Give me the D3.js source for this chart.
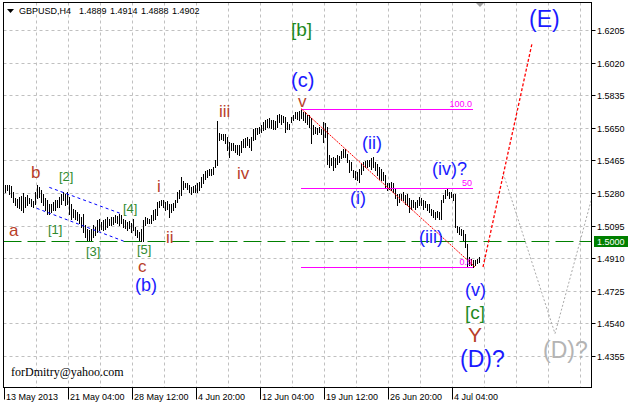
<!DOCTYPE html>
<html><head><meta charset="utf-8">
<script src="https://cdn.jsdelivr.net/npm/d3@7"></script>
<style>html,body{margin:0;padding:0;background:#fff}svg{display:block}</style>
</head><body>
<svg id="chart" width="631" height="405"></svg>
<script>
// ---------- DATA ----------
const symbol = "GBPUSD,H4";
const lastOHLC = ["1.4889", "1.4914", "1.4888", "1.4902"];
const highs = [
1.5328,1.5328,1.5324,1.5318,1.5286,1.5250,1.5245,1.5256,1.5262,1.5279,
1.5258,1.5267,1.5250,1.5245,1.5235,1.5286,1.5324,1.5314,1.5296,1.5277,
1.5254,1.5243,1.5220,1.5220,1.5229,1.5239,1.5243,1.5258,1.5277,1.5286,
1.5277,1.5286,1.5258,1.5220,1.5192,1.5182,1.5173,1.5163,1.5144,1.5163,
1.5097,1.5078,1.5069,1.5078,1.5097,1.5087,1.5125,1.5135,1.5116,1.5125,
1.5135,1.5144,1.5135,1.5144,1.5141,1.5154,1.5148,1.5163,1.5154,1.5131,
1.5125,1.5116,1.5120,1.5110,1.5135,1.5087,1.5069,1.5059,1.5078,1.5125,
1.5144,1.5138,1.5135,1.5154,1.5182,1.5192,1.5229,1.5233,1.5239,1.5239,
1.5229,1.5233,1.5220,1.5220,1.5226,1.5239,1.5286,1.5296,1.5371,1.5347,
1.5339,1.5339,1.5324,1.5314,1.5320,1.5324,1.5339,1.5343,1.5371,1.5390,
1.5403,1.5409,1.5415,1.5419,1.5428,1.5466,1.5687,1.5623,1.5617,1.5617,
1.5612,1.5598,1.5570,1.5561,1.5566,1.5555,1.5551,1.5555,1.5575,1.5587,
1.5592,1.5598,1.5589,1.5598,1.5646,1.5649,1.5651,1.5655,1.5665,1.5683,
1.5693,1.5699,1.5703,1.5693,1.5693,1.5687,1.5721,1.5731,1.5721,1.5717,
1.5712,1.5683,1.5674,1.5712,1.5721,1.5737,1.5740,1.5744,1.5759,1.5740,
1.5737,1.5725,1.5721,1.5703,1.5665,1.5655,1.5649,1.5655,1.5646,1.5683,
1.5680,1.5655,1.5494,1.5476,1.5485,1.5479,1.5494,1.5490,1.5517,1.5532,
1.5528,1.5504,1.5466,1.5456,1.5409,1.5403,1.5400,1.5419,1.5447,1.5455,
1.5460,1.5466,1.5466,1.5476,1.5485,1.5456,1.5447,1.5428,1.5419,1.5400,
1.5381,1.5334,1.5337,1.5343,1.5334,1.5305,1.5277,1.5277,1.5277,1.5286,
1.5267,1.5277,1.5249,1.5239,1.5243,1.5229,1.5239,1.5258,1.5249,1.5239,
1.5235,1.5220,1.5220,1.5192,1.5182,1.5173,1.5178,1.5173,1.5239,1.5267,
1.5296,1.5305,1.5286,1.5286,1.5277,1.5277,1.5091,1.5087,1.5078,1.5069,
1.5050,1.4993,1.4917,1.4908,1.4898,1.4898,1.4908,1.4914];
const lows = [
1.5286,1.5296,1.5277,1.5258,1.5229,1.5211,1.5201,1.5194,1.5182,1.5173,
1.5201,1.5211,1.5222,1.5205,1.5201,1.5220,1.5249,1.5258,1.5229,1.5211,
1.5182,1.5163,1.5163,1.5173,1.5182,1.5182,1.5201,1.5201,1.5220,1.5239,
1.5211,1.5220,1.5163,1.5135,1.5144,1.5135,1.5125,1.5107,1.5087,1.5059,
1.5031,1.5012,1.5012,1.5012,1.5031,1.5040,1.5059,1.5069,1.5078,1.5069,
1.5078,1.5087,1.5097,1.5097,1.5103,1.5116,1.5110,1.5097,1.5107,1.5087,
1.5082,1.5069,1.5080,1.5059,1.5069,1.5040,1.5031,1.5012,1.5006,1.5006,
1.5097,1.5107,1.5107,1.5112,1.5125,1.5135,1.5154,1.5201,1.5211,1.5201,
1.5182,1.5192,1.5144,1.5173,1.5182,1.5201,1.5229,1.5249,1.5267,1.5305,
1.5314,1.5305,1.5286,1.5277,1.5286,1.5283,1.5286,1.5296,1.5314,1.5334,
1.5362,1.5371,1.5381,1.5381,1.5390,1.5428,1.5438,1.5579,1.5589,1.5579,
1.5561,1.5523,1.5485,1.5523,1.5523,1.5513,1.5504,1.5494,1.5511,1.5540,
1.5541,1.5555,1.5541,1.5523,1.5579,1.5589,1.5612,1.5623,1.5627,1.5636,
1.5646,1.5655,1.5655,1.5649,1.5646,1.5646,1.5655,1.5683,1.5674,1.5683,
1.5627,1.5646,1.5646,1.5683,1.5693,1.5703,1.5699,1.5693,1.5703,1.5693,
1.5683,1.5674,1.5655,1.5561,1.5617,1.5623,1.5617,1.5627,1.5612,1.5570,
1.5598,1.5447,1.5428,1.5438,1.5409,1.5428,1.5447,1.5456,1.5476,1.5485,
1.5485,1.5456,1.5400,1.5409,1.5371,1.5362,1.5352,1.5343,1.5390,1.5409,
1.5428,1.5428,1.5432,1.5419,1.5428,1.5409,1.5381,1.5362,1.5352,1.5352,
1.5314,1.5296,1.5305,1.5296,1.5286,1.5249,1.5211,1.5229,1.5239,1.5239,
1.5220,1.5211,1.5173,1.5192,1.5201,1.5192,1.5201,1.5211,1.5211,1.5192,
1.5201,1.5182,1.5173,1.5154,1.5144,1.5135,1.5144,1.5135,1.5135,1.5229,
1.5249,1.5267,1.5249,1.5258,1.5239,1.5087,1.5059,1.5050,1.5040,1.5012,
1.4974,1.4860,1.4870,1.4870,1.4860,1.4870,1.4880,1.4888];
const priceTicks = [1.6205,1.6020,1.5835,1.5650,1.5465,1.5280,1.5095,1.4910,1.4725,1.4540,1.4355];
const dateLabels = ["13 May 2013","21 May 04:00","28 May 12:00","4 Jun 20:00","12 Jun 04:00","19 Jun 12:00","26 Jun 20:00","4 Jul 04:00"];
const dateLabelBars = [-0.5,31.5,63.5,95.5,127.5,159.5,191.5,223.5];
const gridBars = [15.5,31.5,47.5,63.5,79.5,95.5,111.5,127.5,143.5,159.5,175.5,191.5,207.5,223.5,239.5,255.5,271.5,287.5];
const levelPrice = 1.5000;
const fibLevels = [100.0, 50.0, 0.0];
const fibLevelText = ["100.0", "50", "0.0"];
const fibHigh = 1.5759, fibLow = 1.4860, fibStartBar = 148, fibEndBar = 234;
const trendLine = [[148, 1.5759], [235, 1.4860]];
const channelUpper = [[22.15, 1.5312], [57.5, 1.5165]];
const channelLower = [[15.85, 1.5193], [60, 1.5004]];
const projectionMain = [[239, 1.4860], [263.5, 1.6128]];
const projectionAlt = [[249.15, 1.5390], [275, 1.4482], [300, 1.5527]];
// wave labels: text, bar index, price (baseline), style group
const waveLabels = [
  ["a", 2, 1.5036, "minor"], ["b", 13, 1.5365, "minor"], ["c", 66.5, 1.4830, "minor"],
  ["[1]", 21.5, 1.5050, "minute"], ["[2]", 27, 1.5348, "minute"], ["[3]", 40.5, 1.4922, "minute"],
  ["[4]", 59, 1.5169, "minute"], ["[5]", 66, 1.4934, "minute"],
  ["(b)", 65, 1.4724, "inter"],
  ["i", 76, 1.5287, "minor"], ["ii", 80.5, 1.4996, "minor"], ["iii", 107, 1.5713, "minor"],
  ["iv", 116, 1.5359, "minor"], ["v", 146.5, 1.5770, "minor"],
  ["[b]", 143, 1.6171, "primary"], ["(c)", 143, 1.5879, "interL"],
  ["(i)", 172.5, 1.5218, "inter"], ["(ii)", 178.5, 1.5530, "inter"], ["(iii)", 207, 1.4996, "inter"],
  ["(iv)?", 213.5, 1.5380, "inter"], ["(v)", 230, 1.4695, "inter"], ["[c]", 230, 1.4565, "primary"],
  ["Y", 231.5, 1.4432, "big"], ["(D)?", 227.5, 1.4292, "major"], ["(E)", 262, 1.6222, "major"],
  ["(D)?", 269, 1.4341, "majorAlt"]
];

// ---------- STYLE ----------
const styles = {
  minor:   {fill:"#b8402a", size:17},
  minute:  {fill:"#2f8a2f", size:13},
  primary: {fill:"#1f8a1f", size:19},
  inter:   {fill:"#1a1aff", size:18},
  interL:  {fill:"#1a1aff", size:20},
  big:     {fill:"#b8402a", size:21},
  major:   {fill:"#1a1aff", size:23},
  majorAlt:{fill:"#b4b4b4", size:23}
};
const L = 3.5, R = 591.5, T = 2.5, B = 387.5;
const font = "'Liberation Sans', Arial, sans-serif";

const svg = d3.select("#chart");
const x = d3.scaleLinear().domain([0, 237]).range([5, 479]);
const y = d3.scaleLinear().domain([1.4355, 1.6205]).range([356, 30]);

svg.append("defs").append("clipPath").attr("id","plot")
  .append("rect").attr("x",L).attr("y",T).attr("width",R-L).attr("height",B-T);

const plot = svg.append("g").attr("clip-path","url(#plot)");

// grid
plot.selectAll("line.hg").data(priceTicks).join("line")
  .attr("x1",L).attr("x2",R)
  .attr("y1",d=>Math.round(y(d))+0.5).attr("y2",d=>Math.round(y(d))+0.5)
  .attr("stroke","#c0c0c0").attr("stroke-dasharray","3,3");
plot.selectAll("line.vg").data(gridBars).join("line")
  .attr("x1",d=>Math.round(x(d))+0.5).attr("x2",d=>Math.round(x(d))+0.5)
  .attr("y1",T).attr("y2",B)
  .attr("stroke","#c0c0c0").attr("stroke-dasharray","3,3");

// 1.5000 level
plot.append("line").attr("x1",L).attr("x2",R)
  .attr("y1",Math.round(y(levelPrice))-0.5).attr("y2",Math.round(y(levelPrice))-0.5)
  .attr("stroke","#008000").attr("stroke-width",1).attr("stroke-dasharray","18,6");

// bars
const idx = d3.range(highs.length);
plot.selectAll("rect.bar").data(idx).join("rect")
  .attr("x",i=>Math.round(x(i)))
  .attr("y",i=>Math.round(y(highs[i])))
  .attr("width",1)
  .attr("height",i=>Math.max(1, Math.round(y(lows[i]))-Math.round(y(highs[i]))+1))
  .attr("fill","#000");

// fibonacci
const fibPrice = lv => fibLow + (fibHigh - fibLow) * lv / 100;
plot.selectAll("line.fib").data(fibLevels).join("line")
  .attr("x1",x(fibStartBar)).attr("x2",x(fibEndBar))
  .attr("y1",d=>Math.round(y(fibPrice(d)))+0.5).attr("y2",d=>Math.round(y(fibPrice(d)))+0.5)
  .attr("stroke","#ff00ff").attr("stroke-width",1);

// channel (blue dotted)
const line = d3.line().x(d=>x(d[0])).y(d=>y(d[1]));
[channelUpper, channelLower].forEach(c=>{
  plot.append("path").attr("d",line(c)).attr("fill","none")
    .attr("stroke","#0000ff").attr("stroke-width",1).attr("stroke-dasharray","3,3");
});
// trend line (red)
plot.append("path").attr("d",line(trendLine)).attr("fill","none")
  .attr("stroke","#ff0000").attr("stroke-width",1).attr("stroke-dasharray","2,1");
// projections
plot.append("path").attr("d",line(projectionAlt)).attr("fill","none")
  .attr("stroke","#a8a8a8").attr("stroke-width",1).attr("stroke-dasharray","2,2");
plot.append("path").attr("d",line(projectionMain)).attr("fill","none")
  .attr("stroke","#ff0000").attr("stroke-width",1.3).attr("stroke-dasharray","3,2");

// fib labels
plot.selectAll("text.fib").data(fibLevels).join("text")
  .attr("x",x(fibEndBar)-1).attr("y",d=>Math.round(y(fibPrice(d)))-2)
  .attr("text-anchor","end").attr("font-family",font).attr("font-size",9)
  .attr("fill","#ff00ff").text((d,i)=>fibLevelText[i]);

// wave labels
plot.selectAll("text.wave").data(waveLabels).join("text")
  .attr("x",d=>x(d[1])).attr("y",d=>y(d[2]))
  .attr("font-family",font).attr("font-size",d=>styles[d[3]].size)
  .attr("fill",d=>styles[d[3]].fill).text(d=>d[0]);

// shift marker
svg.append("path").attr("d","M476,3L484,3L480,7Z").attr("fill","#a0a0a0");

// frame
svg.append("rect").attr("x",L).attr("y",T).attr("width",R-L).attr("height",B-T)
  .attr("fill","none").attr("stroke","#000");

// right axis
const ra = svg.append("g");
ra.selectAll("line").data(priceTicks).join("line")
  .attr("x1",R).attr("x2",R+4)
  .attr("y1",d=>Math.round(y(d))+0.5).attr("y2",d=>Math.round(y(d))+0.5).attr("stroke","#000");
ra.selectAll("text").data(priceTicks).join("text")
  .attr("x",597).attr("y",d=>Math.round(y(d))+4)
  .attr("font-family",font).attr("font-size",9).attr("fill","#000")
  .text(d=>d.toFixed(4));
// level label
const ly = Math.round(y(levelPrice));
svg.append("rect").attr("x",594).attr("y",ly-6).attr("width",34).attr("height",11).attr("fill","#008000");
svg.append("text").attr("x",597).attr("y",ly+3).attr("font-family",font).attr("font-size",9)
  .attr("fill","#fff").text(levelPrice.toFixed(4));

// bottom axis
const ba = svg.append("g");
ba.selectAll("line").data(dateLabelBars).join("line")
  .attr("x1",d=>Math.round(x(d))+0.5).attr("x2",d=>Math.round(x(d))+0.5)
  .attr("y1",B).attr("y2",B+12).attr("stroke","#000");
ba.selectAll("text").data(dateLabelBars).join("text")
  .attr("x",d=>Math.round(x(d))+2).attr("y",400)
  .attr("font-family",font).attr("font-size",9).attr("fill","#000")
  .text((d,i)=>dateLabels[i]);

// title
svg.append("path").attr("d","M7,9L14,9L10.5,13Z").attr("fill","#000");
const titleParts = [symbol].concat(lastOHLC);
const titleX = [19, 79, 110, 141, 172];
svg.selectAll("text.title").data(titleParts).join("text")
  .attr("x",(d,i)=>titleX[i]).attr("y",14)
  .attr("font-family",font).attr("font-size",9).attr("fill","#000").text(d=>d);

// credit
svg.append("text").attr("x",11).attr("y",376)
  .attr("font-family","'Liberation Serif','Times New Roman',serif").attr("font-size",12)
  .attr("fill","#000").text("forDmitry@yahoo.com");
</script>
</body></html>
